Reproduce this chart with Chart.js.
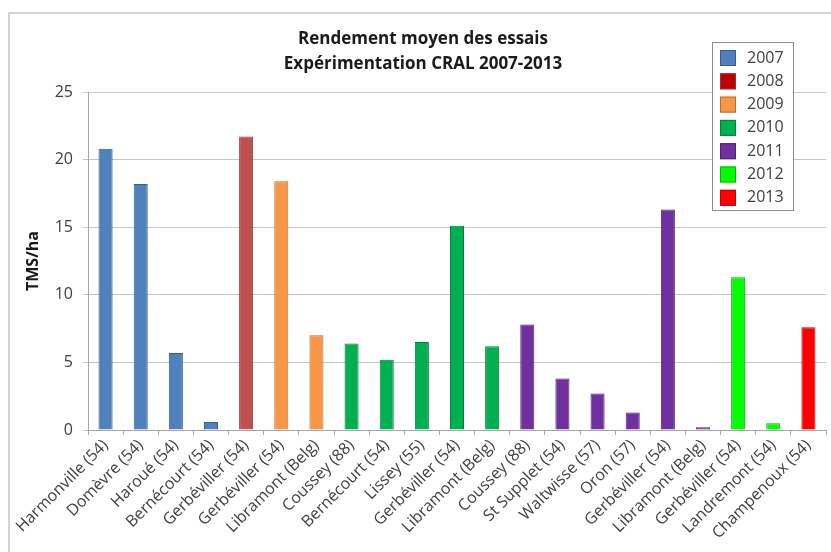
<!DOCTYPE html>
<html>
<head>
<meta charset="utf-8">
<script src="https://cdn.jsdelivr.net/npm/chart.js@4.4.1/dist/chart.umd.min.js"></script>
<style>
  html, body { margin: 0; padding: 0; background: #fff; }
  #wrap { width: 831px; height: 552px; }
</style>
</head>
<body>
<div id="wrap"><canvas id="myChart" width="831" height="552"></canvas></div>
<script>
const sites = ["Harmonville (54)", "Domèvre (54)", "Haroué (54)", "Bernécourt (54)", "Gerbéviller (54)",
  "Gerbéviller (54)", "Libramont (Belg)", "Coussey (88)", "Bernécourt (54)", "Lissey (55)",
  "Gerbéviller (54)", "Libramont (Belg)", "Coussey (88)", "St Supplet (54)", "Waltwisse (57)",
  "Oron (57)", "Gerbéviller (54)", "Libramont (Belg)", "Gerbéviller (54)", "Landremont (54)", "Champenoux (54)"];
const siteYears = ["2007", "2007", "2007", "2007", "2008", "2009", "2009", "2010", "2010", "2010", "2010",
  "2010", "2011", "2011", "2011", "2011", "2011", "2011", "2012", "2012", "2013"];
const rendement = [20.8, 18.2, 5.7, 0.6, 21.7, 18.4, 7.0, 6.4, 5.2, 6.5, 15.1, 6.2, 7.8, 3.8, 2.7, 1.3, 16.3, 0.2, 11.3, 0.5, 7.6];
const yearLabels = ["2007", "2008", "2009", "2010", "2011", "2012", "2013"];
const yTicks = [0, 5, 10, 15, 20, 25];

// couleurs
const barColors = { "2007": "#4f81bd", "2008": "#c0504d", "2009": "#f79646", "2010": "#00b050",
  "2011": "#7030a0", "2012": "#00ff00", "2013": "#ff0000" };
const barBorders = { "2007": "#385d8a", "2008": "#8c3836", "2009": "#b66d31", "2010": "#00803a",
  "2011": "#4f2272", "2012": "#00b800", "2013": "#c00000" };
const legendColors = { "2007": "#4f81bd", "2008": "#c00000", "2009": "#f79646", "2010": "#00b050",
  "2011": "#7030a0", "2012": "#00ff00", "2013": "#ff0000" };

const datasets = yearLabels.map((y) => ({
  label: y,
  data: rendement.map((v, i) => (siteYears[i] === y ? v : null)),
  backgroundColor: barColors[y],
  borderColor: barBorders[y],
  borderWidth: 1,
  grouped: false,
  barPercentage: 0.5,
  categoryPercentage: 0.8,
}));

const frame = {
  id: "frame",
  beforeDraw: function (chart) {
    const ctx = chart.ctx;
    ctx.save();
    ctx.fillStyle = "#ffffff";
    ctx.fillRect(0, 0, chart.width, chart.height);
    ctx.strokeStyle = "#d4d4d4";
    ctx.lineWidth = 2;
    ctx.beginPath();
    ctx.moveTo(9, chart.height + 5);
    ctx.lineTo(9, 13);
    ctx.lineTo(chart.width + 5, 13);
    ctx.stroke();
    ctx.restore();
  },
};

const floatingLegend = {
  id: "floatingLegend",
  afterDraw: function (chart) {
    const ctx = chart.ctx;
    ctx.save();
    ctx.fillStyle = "#ffffff";
    ctx.fillRect(712.5, 42.5, 81, 168);
    ctx.strokeStyle = "#8c8c8c";
    ctx.lineWidth = 1;
    ctx.strokeRect(712.5, 42.5, 81, 168);
    ctx.font = "16px 'Open Sans'";
    ctx.textBaseline = "middle";
    ctx.textAlign = "left";
    chart.data.datasets.forEach((ds, i) => {
      const y = 50 + i * 23.3;
      ctx.fillStyle = legendColors[ds.label];
      ctx.fillRect(720, y, 16, 16);
      ctx.strokeStyle = ds.borderColor;
      ctx.strokeRect(720.5, y + 0.5, 15, 15);
      ctx.fillStyle = "#404040";
      ctx.fillText(ds.label, 747, y + 8);
    });
    ctx.restore();
  },
};

const ctx = document.getElementById("myChart").getContext("2d");

const chart = new Chart(ctx, {
  type: "bar",
  data: { labels: sites, datasets: datasets },
  options: {
    responsive: false,
    animation: false,
    layout: { padding: { left: 20, right: 5, top: 0, bottom: 0 } },
    scales: {
      x: {
        afterFit: function (scale) { scale.height = 122; },
        ticks: {
          color: "#404040",
          font: { family: "'Open Sans'", size: 16 },
          minRotation: 45,
          maxRotation: 45,
          autoSkip: false,
          padding: 1,
        },
        grid: { offset: true, drawOnChartArea: false, tickLength: 5, color: "#a6a6a6" },
        border: { color: "#a6a6a6" },
      },
      y: {
        min: 0,
        max: 25,
        afterFit: function (scale) { scale.width = 68; },
        afterBuildTicks: function (scale) { scale.ticks = yTicks.map((v) => ({ value: v })); },
        ticks: {
          color: "#404040",
          font: { family: "'Open Sans'", size: 16 },
          padding: 10,
        },
        grid: { color: "#c4c4c4", tickLength: 5 },
        border: { color: "#a6a6a6" },
        title: {
          display: true,
          text: "TMS/ha",
          color: "#1a1a1a",
          font: { family: "'Open Sans'", size: 16, weight: "bold" },
          padding: { top: 4, bottom: 0 },
        },
      },
    },
    plugins: {
      legend: { display: false },
      tooltip: { enabled: false },
      title: {
        display: true,
        text: ["Rendement moyen des essais", "Expérimentation CRAL 2007-2013"],
        color: "#1a1a1a",
        font: { family: "'Open Sans'", size: 17, weight: "bold", lineHeight: 1.5 },
        padding: { top: 26, bottom: 15 },
      },
    },
  },
  plugins: [frame, floatingLegend],
});
</script>
</body>
</html>
